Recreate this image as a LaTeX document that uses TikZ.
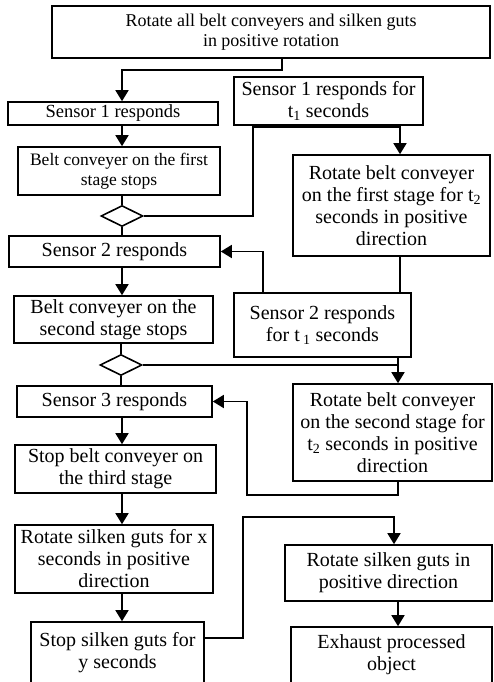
\documentclass[tikz,border=0pt]{standalone}
\usepackage{fontspec}
\setmainfont{Liberation Serif}
\usetikzlibrary{shapes.geometric,arrows.meta}
\tikzset{
  box/.style={draw, line width=1.6pt, inner sep=0pt, align=center, font=\fontsize{20}{22}\selectfont},
  dia/.style={draw, line width=1.6pt, diamond, inner sep=0pt, minimum width=42pt, minimum height=21pt},
  conn/.style={line width=1.6pt},
  arr/.style={line width=1.6pt, -{Triangle[length=11pt,width=13pt]}}
}
\begin{document}
\begin{tikzpicture}[x=1pt,y=-1pt]
\useasboundingbox (0,0) rectangle (493,682);
% boxes
\node[box, minimum width=438pt, minimum height=52pt, font=\fontsize{18}{20}\selectfont] (top) at (271,32) {Rotate all belt conveyers and silken guts\\in positive rotation};
\node[box, minimum width=210pt, minimum height=23pt, font=\fontsize{18.5}{20}\selectfont] (s1) at (113,113.5) {Sensor 1 responds};
\node[box, minimum width=189pt, minimum height=48pt] (s1t) at (328.5,101) {Sensor 1 responds for\\t\textsubscript{1} seconds};
\node[box, minimum width=202pt, minimum height=48pt, font=\fontsize{17.5}{20}\selectfont] (b1) at (119,171) {Belt conveyer on the first\\stage stops};
\node[dia] (d1) at (122,216) {};
\node[box, minimum width=197pt, minimum height=101pt] (r1) at (391.5,205.5) {Rotate belt conveyer\\on the first stage for t\textsubscript{2}\\seconds in positive\\direction};
\node[box, minimum width=211pt, minimum height=31pt] (s2) at (114.5,251.5) {Sensor 2 responds};
\node[box, minimum width=199pt, minimum height=47pt] (b2) at (113.5,319.5) {Belt conveyer on the\\second stage stops};
\node[box, minimum width=177pt, minimum height=64pt] (s2t) at (322.5,325) {Sensor 2 responds\\for t\,\textsubscript{1} seconds};
\node[dia] (d2) at (121,365) {};
\node[box, minimum width=195pt, minimum height=31pt] (s3) at (114.5,401.5) {Sensor 3 responds};
\node[box, minimum width=199pt, minimum height=97pt] (r2) at (392.5,432.5) {Rotate belt conveyer\\on the second stage for\\t\textsubscript{2} seconds in positive\\direction};
\node[box, minimum width=201pt, minimum height=48pt] (sb3) at (115.5,469) {Stop belt conveyer on\\the third stage};
\node[box, minimum width=198pt, minimum height=68pt] (rx) at (114,559) {Rotate silken guts for x\\seconds in positive\\direction};
\node[box, minimum width=173pt, minimum height=61pt] (ss) at (117.5,652.5) {Stop silken guts for\\y seconds};
\node[box, minimum width=207pt, minimum height=56pt] (rs) at (388.5,573) {Rotate silken guts in\\positive direction};
\node[box, minimum width=201pt, minimum height=56pt] (ex) at (391.5,655) {Exhaust processed\\object};
% junction coordinates
\coordinate (jTop) at (282,70);
\coordinate (cL) at (122,0);
\coordinate (jS1) at (253,127);
\coordinate (cR) at (400,0);
\coordinate (jS2) at (263,0);
\coordinate (cR2) at (398,0);
\coordinate (jLoop) at (247,495);
\coordinate (jSSb) at (243,638);
\coordinate (jSS) at (243,517);
\coordinate (cRS) at (394,0);
% connectors
\draw[arr] (top.south -| jTop) -- (jTop) -| (s1.north -| cL);
\draw[arr] (s1.south -| cL) -- (b1.north -| cL);
\draw[conn] (b1.south -| cL) -- (d1.north);
\draw[conn] (s1t.south -| jS1) |- (d1.east);
\draw[arr] (jS1) -| (r1.north -| cR);
\draw[conn] (d1.south) -- (s2.north -| d1.south);
\draw[arr] (s2.south -| cL) -- (b2.north -| cL);
\draw[conn] (r1.south -| cR) -- (s2t.north -| cR);
\draw[arr] (s2t.north -| jS2) |- (s2.east);
\draw[conn] (b2.south -| d2.north) -- (d2.north);
\draw[arr] (d2.east) -| (r2.north -| cR2);
\draw[conn] (s2t.south -| cR2) -- (d2.east -| cR2);
\draw[conn] (d2.south) -- (s3.north -| d2.south);
\draw[arr] (s3.south -| cL) -- (sb3.north -| cL);
\draw[arr] (r2.south -| cR2) |- (jLoop) |- (s3.east);
\draw[arr] (sb3.south -| cL) -- (rx.north -| cL);
\draw[arr] (rx.south -| cL) -- (ss.north -| cL);
\draw[arr] (ss.east |- jSSb) -- (jSSb) -- (jSS) -| (rs.north -| cRS);
\draw[arr] (rs.south -| cR2) -- (ex.north -| cR2);
\end{tikzpicture}
\end{document}
